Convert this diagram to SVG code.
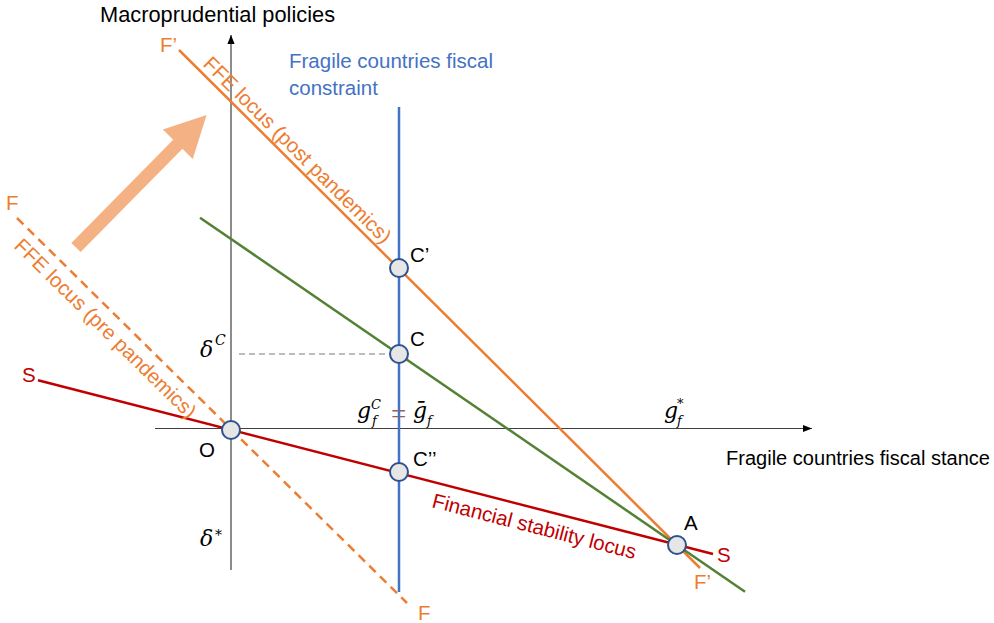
<svg xmlns="http://www.w3.org/2000/svg" width="994" height="623" viewBox="0 0 994 623">
<defs>
<style>
.t{font-family:"Liberation Sans",Arial,sans-serif;font-size:20.5px}
.m{font-family:"DejaVu Serif","Liberation Serif",serif;font-style:italic}
.or{fill:#ed7d31}
.rd{fill:#c00000}
.bl{fill:#4472c4}
.bk{fill:#000}
.pt{fill:#e6e6e6;stroke:#2f528f;stroke-width:2}
</style>
<marker id="ah" viewBox="0 0 10 10" refX="10" refY="5" markerWidth="9" markerHeight="9" markerUnits="userSpaceOnUse" orient="auto">
<path d="M0,1 L10,5 L0,9 z" fill="#000"/>
</marker>
</defs>
<rect width="994" height="623" fill="#fff"/>

<g id="axes" stroke="#404040" stroke-width="1.2" fill="none">
<line x1="231" y1="570" x2="231" y2="35" marker-end="url(#ah)"/>
<line x1="155" y1="428.5" x2="812" y2="428.5" marker-end="url(#ah)"/>
</g>

<g id="shift-arrow">
<polygon transform="translate(76,247.5) rotate(-45.4)" points="0,-6.5 145,-6.5 145,-21 186,0 145,21 145,6.5 0,6.5" fill="#f4b183"/>
</g>

<g id="connectors" fill="none" stroke-width="2.5">
<line x1="239" y1="354" x2="390" y2="354" stroke="#a6a6a6" stroke-width="1.5" stroke-dasharray="6 4"/>
<line id="ffe-pre" x1="17" y1="218" x2="407" y2="603" stroke="#ed7d31" stroke-dasharray="9 6"/>
<line id="ffe-post" x1="179" y1="50" x2="700" y2="568" stroke="#ed7d31"/>
<line id="green" x1="200" y1="217.7" x2="745" y2="591.7" stroke="#548235"/>
<line id="fsl" x1="38" y1="380.2" x2="713" y2="554" stroke="#c00000"/>
<line id="constraint" x1="399" y1="107" x2="399" y2="592" stroke="#4472c4"/>
</g>

<g id="node-O"><circle class="pt" cx="231" cy="430" r="9"/><text class="t bk" x="199" y="457">O</text></g>
<g id="node-Cp"><circle class="pt" cx="399" cy="268" r="9"/><text class="t bk" x="410" y="262">C’</text></g>
<g id="node-C"><circle class="pt" cx="399" cy="354" r="9"/><text class="t bk" x="410" y="346">C</text></g>
<g id="node-Cpp"><circle class="pt" cx="399" cy="472" r="9"/><text class="t bk" x="413" y="466">C’’</text></g>
<g id="node-A"><circle class="pt" cx="677" cy="545" r="9"/><text class="t bk" x="684" y="530">A</text></g>

<g id="labels">
<text class="t bk" x="100" y="22" style="font-size:21.8px">Macroprudential policies</text>
<text class="t bk" x="726" y="465" style="font-size:20px" textLength="264" lengthAdjust="spacingAndGlyphs">Fragile countries fiscal stance</text>
<text class="t bl" x="289" y="68">Fragile countries fiscal</text>
<text class="t bl" x="289" y="95">constraint</text>
<text class="t or" x="160" y="52">F’</text>
<text class="t or" x="6" y="210">F</text>
<text class="t or" x="418" y="620">F</text>
<text class="t or" x="694" y="589">F’</text>
<text class="t rd" x="22" y="382">S</text>
<text class="t rd" x="717" y="562">S</text>
<text class="t or" transform="translate(202,65) rotate(44.8)">FFE locus (post pandemics)</text>
<text class="t or" transform="translate(13,247) rotate(44.6)">FFE locus (pre pandemics)</text>
<text class="t rd" transform="translate(431,507) rotate(14.4)">Financial stability locus</text>

<text class="m bk" x="200" y="357" font-size="22">δ</text>
<text class="m bk" x="215" y="345" font-size="14">C</text>
<text class="m bk" x="200" y="546" font-size="22">δ</text>
<text class="m bk" x="215" y="540" font-size="14">*</text>

<text class="m bk" x="357" y="418" font-size="22">g</text>
<text class="m bk" x="371" y="409" font-size="13">C</text>
<text class="m bk" x="372" y="425" font-size="13">f</text>
<text x="391" y="423" font-size="27" fill="#8c6464" style="font-family:'Liberation Serif',serif">=</text>
<text class="m bk" x="413" y="418" font-size="22">ḡ</text>
<text class="m bk" x="427" y="425" font-size="13">f</text>

<text class="m bk" x="664" y="418" font-size="22">g</text>
<text class="m bk" x="677" y="408" font-size="13">*</text>
<text class="m bk" x="677" y="425" font-size="13">f</text>
</g>
</svg>
